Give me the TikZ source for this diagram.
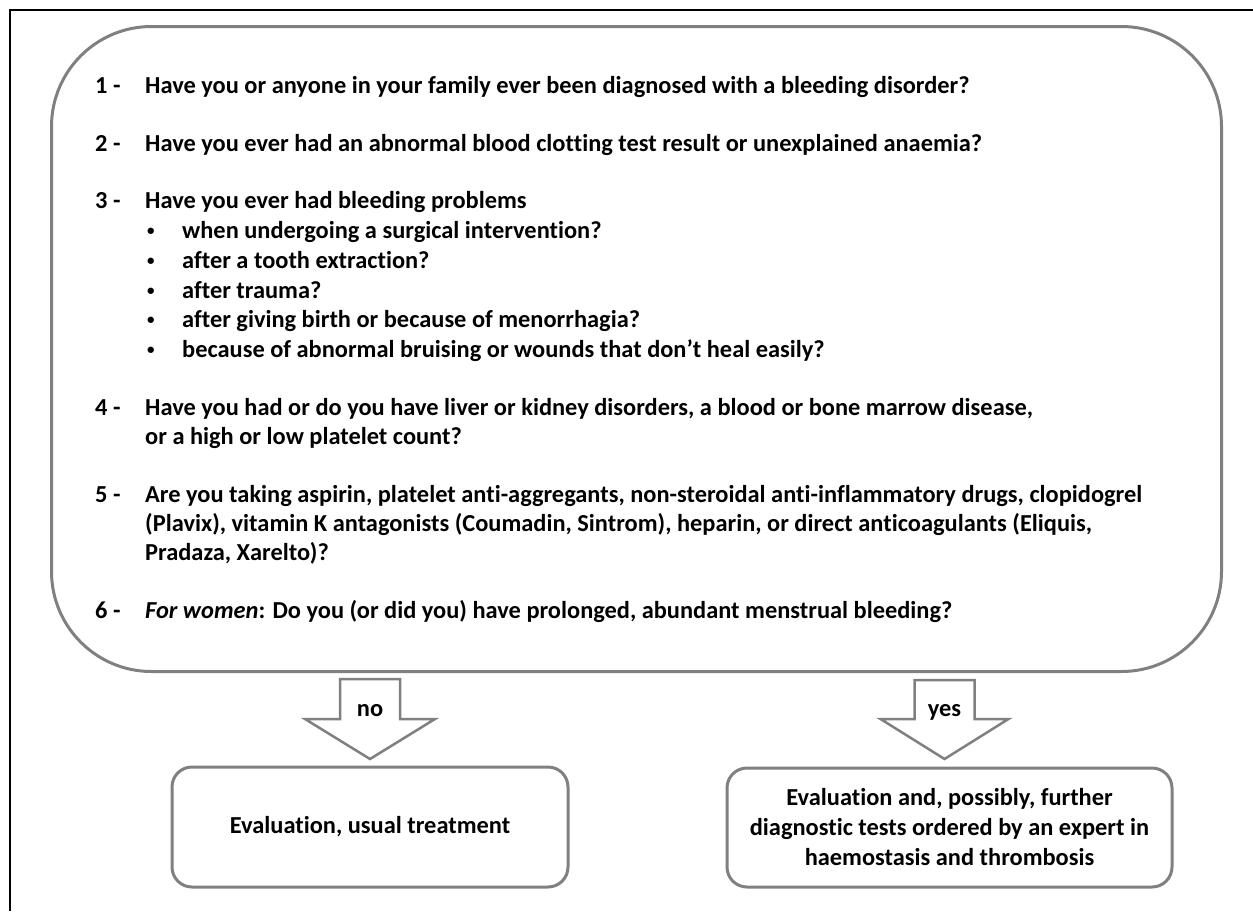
\documentclass[tikz,border=0pt]{standalone}
\usepackage{fontspec}
\setmainfont{Carlito}[Ligatures=NoCommon]
\definecolor{boxgray}{HTML}{808080}
\newcommand{\qfont}{\fontsize{24.4}{30}\selectfont\bfseries}
\newcommand{\smallbullet}{{\fontsize{15}{15}\selectfont\raisebox{2.5pt}{\textbullet}}}
\begin{document}
\begin{tikzpicture}[x=1pt,y=-1pt,
  q/.style={anchor=base west, inner sep=0pt, font=\qfont},
  bigbox/.style={draw=boxgray, line width=3pt, rounded corners=100pt, anchor=north west, inner sep=0pt},
  outbox/.style={draw=boxgray, line width=3pt, rounded corners=20pt, align=center, font=\qfont, inner sep=0pt},
  blockarrow/.style={draw=boxgray, line width=2.5pt, fill=white, line join=miter},
  lbl/.style={font=\qfont, inner sep=0pt, anchor=base}
]
\useasboundingbox (0,0) rectangle (1253,911);
\draw[black, line width=1.5pt] (10,911) -- (10,10) -- (1253,10);

\node[bigbox, minimum width=1170pt, minimum height=645pt] (qbox) at (50,25) {};

\node[q] (n1) at (95,93) {1 -};
\node[q] (t1) at (145,93) {Have you or anyone in your family ever been diagnosed with a bleeding disorder?};
\node[q] (n2) at (95,151) {2 -};
\node[q] (t2) at (145,151) {Have you ever had an abnormal blood clotting test result or unexplained anaemia?};
\node[q] (n3) at (95,208) {3 -};
\node[q] (t3) at (145,208) {Have you ever had bleeding problems};
\node[q] (d1) at (147,238) {\smallbullet};
\node[q] (s1) at (182,238) {when undergoing a surgical intervention?};
\node[q] (d2) at (147,268) {\smallbullet};
\node[q] (s2) at (182,268) {after a tooth extraction?};
\node[q] (d3) at (147,298) {\smallbullet};
\node[q] (s3) at (182,298) {after trauma?};
\node[q] (d4) at (147,327) {\smallbullet};
\node[q] (s4) at (182,327) {after giving birth or because of menorrhagia?};
\node[q] (d5) at (147,357) {\smallbullet};
\node[q] (s5) at (182,357) {because of abnormal bruising or wounds that don’t heal easily?};
\node[q] (n4) at (95,415) {4 -};
\node[q] (t4a) at (145,415) {Have you had or do you have liver or kidney disorders, a blood or bone marrow disease,};
\node[q] (t4b) at (145,444) {or a high or low platelet count?};
\node[q] (n5) at (95,502) {5 -};
\node[q] (t5a) at (145,502) {Are you taking aspirin, platelet anti-aggregants, non-steroidal anti-inflammatory drugs, clopidogrel};
\node[q] (t5b) at (145,531) {(Plavix), vitamin K antagonists (Coumadin, Sintrom), heparin, or direct anticoagulants (Eliquis,};
\node[q] (t5c) at (145,560) {Pradaza, Xarelto)?};
\node[q] (n6) at (95,618) {6 -};
\node[q] (t6) at (145,618) {\textit{For women}: Do you (or did you) have prolonged, abundant menstrual bleeding?};

\node[outbox, minimum width=396pt, minimum height=120pt] (b1) at (370,827) {Evaluation, usual treatment};
\node[outbox, minimum width=445pt, minimum height=119pt] (b2) at (949.5,827.5) {Evaluation and, possibly, further\\diagnostic tests ordered by an expert in\\haemostasis and thrombosis};

\coordinate (na) at (370,679);
\draw[blockarrow] (na) ++(-30,0) -- ++(60,0) -- ++(0,40) -- ++(35,0) -- ++(-65,40) -- ++(-65,-40) -- ++(35,0) -- cycle;
\node[lbl] (no) at (370,716) {no};

\coordinate (ya) at (944.5,680);
\draw[blockarrow] (ya) ++(-30,0) -- ++(60,0) -- ++(0,39) -- ++(34,0) -- ++(-64,40) -- ++(-64,-40) -- ++(34,0) -- cycle;
\node[lbl] (yes) at (944.5,716) {yes};
\end{tikzpicture}
\end{document}
